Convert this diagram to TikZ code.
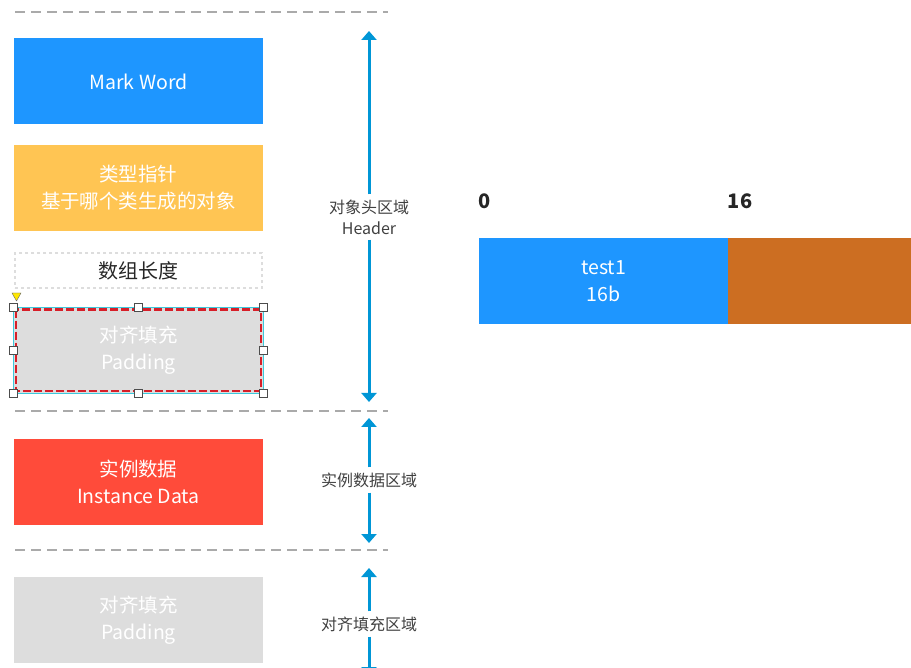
\documentclass[tikz,border=0pt]{standalone}
\usepackage{fontspec}
\setmainfont{Noto Sans CJK SC}
\usetikzlibrary{positioning,arrows.meta}
\definecolor{markblue}{RGB}{30,150,255}
\definecolor{ptryellow}{RGB}{255,197,83}
\definecolor{instred}{RGB}{255,75,58}
\definecolor{padgray}{RGB}{221,221,221}
\definecolor{fieldorange}{RGB}{204,110,34}
\definecolor{arrowblue}{RGB}{0,150,214}
\definecolor{sepgray}{RGB}{170,170,170}
\definecolor{selcyan}{RGB}{60,200,220}
\definecolor{selred}{RGB}{215,30,40}

\begin{document}
\begin{tikzpicture}[x=1pt,y=-1pt,node distance=20pt,
		block/.style={rectangle,minimum width=249pt,minimum height=86pt,inner sep=0pt,
			text=white,align=center,font=\fontsize{19.5}{27}\selectfont},
		region/.style={draw=arrowblue,line width=3pt,-{Triangle[length=9pt,width=15pt]}},
		regionlabel/.style={align=center,text=black!75,inner sep=5pt,font=\fontsize{16}{21}\selectfont},
		sep/.style={draw=sepgray,line width=1.2pt,dash pattern=on 10pt off 6pt},
		handle/.style={draw=black!70,fill=white,line width=0.8pt,minimum size=8pt,inner sep=0pt}]
	\useasboundingbox (0,0) rectangle (911,668);

	% separators
	\draw[sep] (15,12) -- (388,12);
	\draw[sep] (15,411) -- (388,411);
	\draw[sep] (15,550) -- (388,550);

	% left column
	\node[block,fill=markblue] (mark) at (138.5,81.5) {Mark Word};
	\node[block,fill=ptryellow,below=of mark] (ptr) {类型指针\\基于哪个类生成的对象};
	\node[block,minimum width=247pt,minimum height=35pt,draw=padgray,line width=2pt,dashed,
		text=black!85,font=\fontsize{20}{24}\selectfont,below=21pt of ptr] (len) {数组长度};
	\node[block,fill=padgray,minimum width=249pt,below=18pt of len] (pad) {对齐填充\\Padding};
	\node[block,fill=instred,below=45pt of pad] (inst) {实例数据\\Instance Data};
	\node[block,fill=padgray,below=52pt of inst] (padtail) {对齐填充\\Padding};

	% selection on the padding box
	\draw[selcyan,line width=0.9pt] (pad.north west) rectangle (pad.south east);
	\draw[selred,line width=2.2pt,dash pattern=on 8pt off 3pt]
		([xshift=2.5pt,yshift=-2.5pt]pad.north west) rectangle ([xshift=-2.5pt,yshift=2.5pt]pad.south east);
	\foreach \a in {north west,north,north east,west,east,south west,south,south east}
		\node[handle] at (pad.\a) {};
	\fill[yellow!90!orange,draw=black!60,line width=0.4pt] (12,293) -- (21,293) -- (16.5,301) -- cycle;

	% region arrows
	\node[regionlabel] (hd) at (369,217) {对象头区域\\Header};
	\coordinate (hdtop) at (369,31);
	\coordinate (hdbot) at (369,402);
	\draw[region] (hd) -- (hdtop);
	\draw[region] (hd) -- (hdbot);

	\node[regionlabel] (instlb) at (369,480) {实例数据区域};
	\coordinate (insttop) at (369,418);
	\coordinate (instbot) at (369,543);
	\draw[region] (instlb) -- (insttop);
	\draw[region] (instlb) -- (instbot);

	\node[regionlabel] (padlb) at (369,624) {对齐填充区域};
	\coordinate (padtop) at (369,568);
	\coordinate (padbot) at (369,676);
	\draw[region] (padlb) -- (padtop);
	\draw[region] (padlb) -- (padbot);

	% right side: field layout
	\node[font=\fontsize{20}{24}\selectfont\bfseries,text=black!85] (zero) at (485,201) {0};
	\node[font=\fontsize{20}{24}\selectfont\bfseries,text=black!85] (sixteen) at (740,201) {16};
	\node[block,fill=markblue] (test) at (603.5,281) {test1\\16b};
	\node[block,fill=fieldorange,minimum width=200pt,right=0pt of test] (next) {};
\end{tikzpicture}
\end{document}
